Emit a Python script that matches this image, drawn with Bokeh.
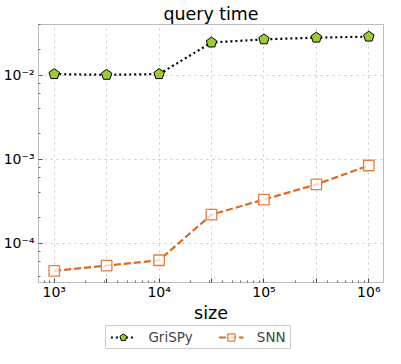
from bokeh.plotting import figure
from bokeh.layouts import column, row
from bokeh.models import (FixedTicker, LogTicker, CustomJSTickFormatter, Legend, LegendItem,
                          Range1d, Spacer)
from bokeh.embed import file_html
from bokeh.resources import INLINE

# ---- data ----
sizes = [1e3, 3.16e3, 1e4, 3.16e4, 1e5, 3.16e5, 1e6]
grispy_time = [0.0103, 0.0101, 0.0103, 0.0245, 0.0267, 0.0280, 0.0288]
snn_time = [4.66e-5, 5.38e-5, 6.24e-5, 2.18e-4, 3.30e-4, 5.00e-4, 8.40e-4]
series_names = ["GriSPy", "SNN"]
x_minor = [m * 10.0 ** e for e in range(2, 7) for m in range(2, 10)]

green = "#9acd32"
orange = "#dd6a1f"
square_edge = "#e57e3e"

p = figure(width=385, height=325, x_axis_type="log", y_axis_type="log",
           output_backend="svg", toolbar_location=None,
           x_range=Range1d(10 ** 2.85, 10 ** 6.14), y_range=Range1d(10 ** -4.47, 10 ** -1.396),
           min_border_left=34, min_border_right=2, min_border_top=0, min_border_bottom=40)
p.background_fill_color = "white"
p.border_fill_color = "white"
p.outline_line_color = "#bbbbbb"
p.outline_line_width = 1

p.title.text = "query time"
p.title.align = "center"
p.title.text_font = "DejaVu Sans"
p.title.text_font_size = "17.4px"
p.title.text_font_style = "normal"
p.title.text_color = "black"
p.title.standoff = 2

fmt = CustomJSTickFormatter(code="""
const sup = {"-":"\u207b","0":"\u2070","1":"\u00b9","2":"\u00b2","3":"\u00b3","4":"\u2074",
             "5":"\u2075","6":"\u2076","7":"\u2077","8":"\u2078","9":"\u2079"};
const l = Math.log10(tick);
const e = Math.round(l);
if (Math.abs(l - e) > 1e-6) return "";
return "10" + String(e).split("").map(c => sup[c]).join("");
""")

p.xaxis.ticker = FixedTicker(ticks=sizes, minor_ticks=x_minor)
p.yaxis.ticker = LogTicker()
for ax in (p.xaxis[0], p.yaxis[0]):
    ax.formatter = fmt
    ax.axis_line_color = "#bbbbbb"
    ax.major_tick_in = 4
    ax.major_tick_out = 0
    ax.minor_tick_in = 2
    ax.minor_tick_out = 0
    ax.major_tick_line_color = "#444444"
    ax.minor_tick_line_color = "#666666"
    ax.major_label_text_font = "DejaVu Sans"
    ax.major_label_text_font_size = "14px"
    ax.major_label_text_color = "black"
    ax.major_label_text_line_height = 1.0

p.yaxis.major_label_standoff = 4
p.xaxis.major_label_standoff = 1
p.xaxis.axis_label = "size"
p.xaxis.axis_label_text_font = "DejaVu Sans"
p.xaxis.axis_label_text_font_size = "17.5px"
p.xaxis.axis_label_text_font_style = "normal"
p.xaxis.axis_label_text_color = "black"
p.xaxis.axis_label_text_line_height = 1.0
p.xaxis.axis_label_standoff = 0

for g in (p.xgrid[0], p.ygrid[0]):
    g.grid_line_color = "#c8c8c8"
    g.grid_line_dash = "dotted"
    g.grid_line_width = 1


def draw(fig):
    a = fig.line(sizes, grispy_time, line_color="black", line_width=2.2, line_dash="2 3")
    b = fig.ngon(sizes, grispy_time, radius=5.5, radius_units="screen", n=5,
                 fill_color=green, line_color="black", line_width=1)
    c = fig.line(sizes, snn_time, line_color=orange, line_width=2.2, line_dash="7 3")
    d = fig.scatter(sizes, snn_time, marker="square", size=10.5, fill_color="white",
                    fill_alpha=0.75, line_color=square_edge, line_width=1.3)
    return a, b, c, d


draw(p)

# legend box below the plot (its outline acts as the legend frame)
pl = figure(width=186, height=24, output_backend="svg", toolbar_location=None, title=None,
            x_range=Range1d(0, 1), y_range=Range1d(0, 1),
            min_border_left=0, min_border_right=0, min_border_top=0, min_border_bottom=0)
pl.axis.visible = False
pl.grid.visible = False
pl.outline_line_color = "#cccccc"
pl.outline_line_width = 1
pl.background_fill_color = "white"
pl.border_fill_color = "white"
l1, m1, l2, m2 = draw(pl)

legend = Legend(items=[LegendItem(label=series_names[0], renderers=[l1, m1]),
                       LegendItem(label=series_names[1], renderers=[l2, m2])],
                orientation="horizontal", location="center",
                label_text_font="DejaVu Sans", label_text_font_size="13.5px",
                glyph_width=25, glyph_height=18, label_height=18, label_standoff=13,
                spacing=26, padding=2, margin=0,
                border_line_color=None, background_fill_alpha=0)
pl.add_layout(legend, "center")

layout = column(p, row(Spacer(width=105, height=24), pl, spacing=0), spacing=0)
open("out.html", "w").write(file_html(layout, INLINE))
